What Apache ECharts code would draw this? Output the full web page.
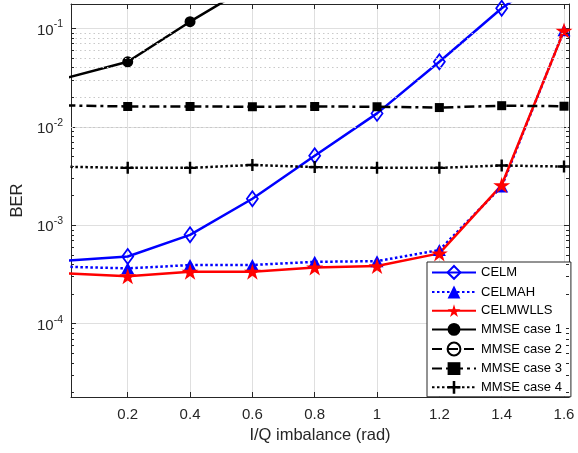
<!DOCTYPE html>
<html><head><meta charset="utf-8">
<script src="https://cdn.jsdelivr.net/npm/echarts@6/dist/echarts.min.js"></script>
<style>html,body{margin:0;padding:0;background:#fff}#c{width:578px;height:453px}</style>
</head><body><div id="c"></div>
<script>
// ---- data ----
const xValues  = [0, 0.2, 0.4, 0.6, 0.8, 1.0, 1.2, 1.4, 1.6];
const celm     = [4.36e-4, 4.82e-4, 8.0e-4, 1.86e-3, 5.09e-3, 1.37e-2, 4.58e-2, 1.60e-1, 4.5e-1];
const celmah   = [3.79e-4, 3.65e-4, 3.94e-4, 3.95e-4, 4.25e-4, 4.32e-4, 5.6e-4, 2.47e-3, 9.6e-2];
const celmwlls = [3.24e-4, 3.04e-4, 3.37e-4, 3.38e-4, 3.73e-4, 3.85e-4, 5.18e-4, 2.56e-3, 9.5e-2];
const mmse1    = [0.0312, 0.0458, 0.117, 0.28];
const mmse2    = [];
const mmse3    = [0.0165, 0.0161, 0.0161, 0.0160, 0.0161, 0.0160, 0.0157, 0.0164, 0.0162];
const mmse4    = [0.00393, 0.00383, 0.00383, 0.0041, 0.0039, 0.00383, 0.00383, 0.00405, 0.00395];
const seriesNames = ['CELM', 'CELMAH', 'CELMWLLS', 'MMSE case 1', 'MMSE case 2', 'MMSE case 3', 'MMSE case 4'];
const xTitle = 'I/Q imbalance (rad)';
const yTitle = 'BER';

// ---- layout / style ----
const X_MIN = 0.018, X_MAX = 1.616, Y_MIN = 1.8e-5, Y_MAX = 0.177;
const FONT = '"Liberation Sans", Arial, Helvetica, sans-serif';
const TXT = '#262626';
const STAR = 'path://M50 0 L61.23 34.55 L97.55 34.55 L68.16 55.9 L79.39 90.45 L50 69.1 L20.61 90.45 L31.84 55.9 L2.45 34.55 L38.77 34.55 Z';
const PLUS = 'path://M4 0H6V4H10V6H6V10H4V6H0V4H4Z';

function pairs(ys) { return ys.map((y, i) => [xValues[i], y]); }

const minorVals = [];
for (let e = -5; e <= -1; e++) for (let m = 2; m <= 9; m++) {
  const v = +(m * Math.pow(10, e)).toPrecision(3);
  if (v > Y_MIN && v < Y_MAX) minorVals.push(v);
}
const TK = 0.0096;
const minorTickData = [];
minorVals.forEach(v => {
  minorTickData.push([{coord: [X_MIN, v]}, {coord: [X_MIN + TK, v]}]);
  minorTickData.push([{coord: [X_MAX - TK, v]}, {coord: [X_MAX, v]}]);
});

function mk(name, data, color, type, symbol, size, fill, borderW) {
  return {
    name, type: 'line', data: pairs(data), symbol, symbolSize: size, showSymbol: true,
    showAllSymbol: true, clip: true, animation: false,
    lineStyle: {color, width: 2.5, type},
    itemStyle: {color: fill, borderColor: color, borderWidth: borderW || 0, opacity: 1},
    emphasis: {disabled: true}, z: 3
  };
}

const series = [
  {name: '_grid', type: 'line', data: [], silent: true, z: 1,
   markLine: {silent: true, symbol: 'none', animation: false, label: {show: false},
     lineStyle: {color: '#c9c9c9', type: [1.5, 3], width: 1},
     emphasis: {disabled: true},
     data: minorVals.map(v => ({yAxis: v}))}},
  {name: '_ticks', type: 'line', data: [], silent: true, z: 4,
   markLine: {silent: true, symbol: 'none', animation: false, label: {show: false},
     lineStyle: {color: TXT, type: 'solid', width: 1},
     emphasis: {disabled: true},
     data: minorTickData}},
  mk(seriesNames[0], celm, '#0000ff', 'solid', 'diamond', [11, 15], 'rgba(255,255,255,0)', 1.8),
  mk(seriesNames[1], celmah, '#0000ff', [2.5, 2.5], 'triangle', [13, 12], '#0000ff', 0),
  mk(seriesNames[2], celmwlls, '#ff0000', 'solid', STAR, [17, 16], '#ff0000', 0),
  mk(seriesNames[3], mmse1, '#000000', 'solid', 'circle', 11, '#000000', 0),
  mk(seriesNames[4], mmse2, '#000000', [10, 6], 'circle', 11, 'rgba(255,255,255,0)', 1.8),
  mk(seriesNames[5], mmse3, '#000000', [10, 4, 3, 4], 'rect', 9, '#000000', 0),
  mk(seriesNames[6], mmse4, '#000000', [2.5, 2.5], PLUS, 12, '#000000', 0)
];

function xFmt(v) {
  const k = v / 0.2;
  if (Math.abs(k - Math.round(k)) > 1e-6) return '';
  return String(+v.toFixed(1));
}
function yFmt(v) {
  const e = Math.log10(v);
  if (Math.abs(e - Math.round(e)) > 1e-6) return '';
  return '{b|10}{s|' + Math.round(e) + '}';
}

const chart = echarts.init(document.getElementById('c'), null, {renderer: 'canvas'});
chart.setOption({
  animation: false,
  backgroundColor: '#ffffff',
  textStyle: {fontFamily: FONT},
  grid: {left: 71, right: 9, top: 4, bottom: 56, containLabel: false, outerBoundsMode: 'none'},
  legend: {
    data: seriesNames, orient: 'vertical', left: 427, top: 262,
    itemWidth: 44, itemHeight: 16, itemGap: 5.7, padding: [3, 9, 3, 4],
    backgroundColor: '#ffffff', borderColor: TXT, borderWidth: 1, borderRadius: 0,
    selectedMode: false, textStyle: {fontSize: 13, color: '#000', fontFamily: FONT}
  },
  xAxis: [{
    type: 'value', min: X_MIN, max: X_MAX, splitNumber: 8, minInterval: 0.2, maxInterval: 0.2,
    position: 'bottom',
    axisLine: {show: true, onZero: false, lineStyle: {color: TXT, width: 1}},
    axisTick: {show: true, inside: true, length: 5, lineStyle: {color: TXT}},
    axisLabel: {formatter: xFmt, fontSize: 15, color: TXT, fontFamily: FONT, margin: 10, showMinLabel: true, showMaxLabel: true},
    splitLine: {show: true, lineStyle: {color: '#dfdfdf', width: 1}},
    name: xTitle, nameLocation: 'middle', nameGap: 28,
    nameTextStyle: {fontSize: 16.5, color: TXT, fontFamily: FONT}
  }, {
    type: 'value', min: X_MIN, max: X_MAX, splitNumber: 8, minInterval: 0.2, maxInterval: 0.2,
    position: 'top',
    axisLine: {show: true, onZero: false, lineStyle: {color: TXT, width: 1}},
    axisTick: {show: true, inside: true, length: 5, lineStyle: {color: TXT}},
    axisLabel: {show: false}, splitLine: {show: false}
  }],
  yAxis: [{
    type: 'log', logBase: 10, min: Y_MIN, max: Y_MAX, position: 'left',
    axisLine: {show: true, onZero: false, lineStyle: {color: TXT, width: 1}},
    axisTick: {show: true, inside: true, length: 5, lineStyle: {color: TXT}},
    axisLabel: {formatter: yFmt, margin: 8, color: TXT, fontFamily: FONT,
      rich: {
        b: {fontSize: 15, color: TXT, fontFamily: FONT, verticalAlign: 'bottom', padding: [4, 0, 0, 0]},
        s: {fontSize: 10.5, color: TXT, fontFamily: FONT, verticalAlign: 'top'}
      }},
    splitLine: {show: true, lineStyle: {color: '#dfdfdf', width: 1}},
    name: yTitle, nameLocation: 'middle', nameGap: 44,
    nameTextStyle: {fontSize: 16.5, color: TXT, fontFamily: FONT}
  }, {
    type: 'log', logBase: 10, min: Y_MIN, max: Y_MAX, position: 'right',
    axisLine: {show: true, onZero: false, lineStyle: {color: TXT, width: 1}},
    axisTick: {show: true, inside: true, length: 5, lineStyle: {color: TXT}},
    axisLabel: {show: false}, splitLine: {show: false}
  }],
  series
});
</script></body></html>
